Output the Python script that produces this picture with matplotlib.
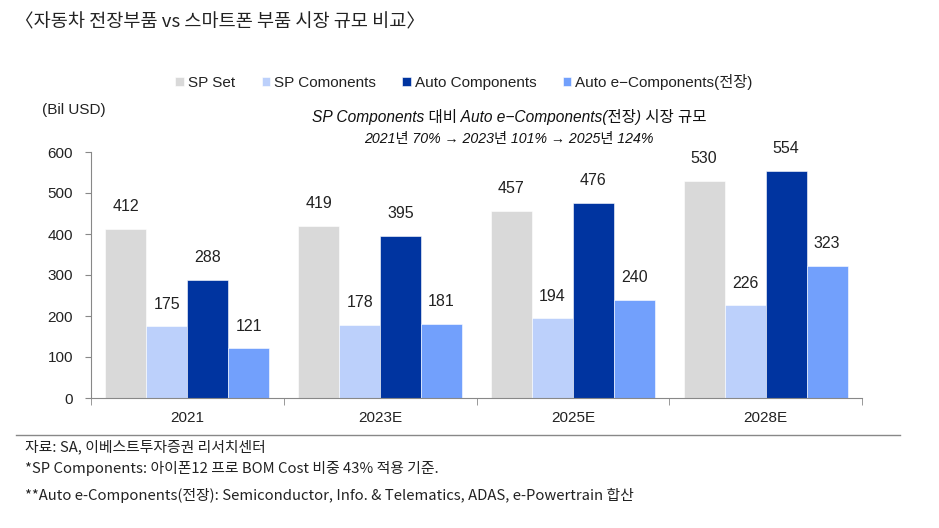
import matplotlib
matplotlib.use("Agg")
import matplotlib.pyplot as plt
import numpy as np

plt.rcParams['font.family'] = ['Liberation Sans', 'Noto Sans CJK KR', 'DejaVu Sans']

categories = ["2021", "2023E", "2025E", "2028E"]
series_names = ["SP Set", "SP Comonents", "Auto Components", "Auto e\u2212Components(전장)"]
sp_set = [412, 419, 457, 530]
sp_components = [175, 178, 194, 226]
auto_components = [288, 395, 476, 554]
auto_e_components = [121, 181, 240, 323]
series_values = [sp_set, sp_components, auto_components, auto_e_components]
colors = ["#d9d9d9", "#bcd0fb", "#0034a0", "#72a0fc"]
y_ticks = [0, 100, 200, 300, 400, 500, 600]

fig = plt.figure(figsize=(9.39, 5.28), dpi=100)
ax = fig.add_axes([91/939, 1-398/528, (862-91)/939, (398-152)/528])

x = np.arange(len(categories))
bw = 0.2125
handles = []
for i, (vals, c) in enumerate(zip(series_values, colors)):
    pos = x + (i - 1.5) * bw
    b = ax.bar(pos, vals, width=bw, color=c, edgecolor='white', linewidth=0.4, label=series_names[i])
    handles.append(b)
    for p, v in zip(pos, vals):
        ax.annotate(str(v), (p, v), xytext=(0, 16), textcoords='offset points',
                    ha='center', va='center', fontsize=11.5, color='#222222')

ax.set_xlim(-0.5, len(categories) - 0.5)
ax.set_ylim(0, 600)
ax.set_yticks(y_ticks)
ax.set_yticklabels([str(t) for t in y_ticks], fontsize=11, color='#222222')
ax.set_xticks(x)
ax.set_xticklabels(categories, fontsize=11, color='#222222')
ax.tick_params(axis='x', length=0, pad=9)
ax.set_xticks(np.arange(-0.5, len(categories)), minor=True)
ax.tick_params(axis='x', which='minor', length=5, color='#888888', direction='out')
ax.tick_params(axis='y', length=4, color='#888888', pad=9)
for s in ['top', 'right']:
    ax.spines[s].set_visible(False)
ax.spines['left'].set_color('#888888')
ax.spines['bottom'].set_color('#888888')

# Legend
leg = fig.legend(handles=handles, labels=series_names, loc='center', bbox_to_anchor=(464/939, 1-82/528),
                 ncol=4, frameon=False, fontsize=11, handlelength=0.55, handleheight=0.55,
                 handletextpad=0.25, columnspacing=1.75)
for t in leg.get_texts():
    t.set_color('#222222')

# Title
fig.text(15/939, 1-22/528, "〈자동차 전장부품 vs 스마트폰 부품 시장 규모 비교〉", fontsize=13.4,
         family=['Noto Sans CJK KR', 'DejaVu Sans'], ha='left', va='center', color='#222222')

fig.text(42/939, 1-110/528, "(Bil USD)", fontsize=11, ha='left', va='center', color='#222222')

# Subtitle
fig.text(509/939, 1-117/528, "SP Components 대비 Auto e\u2212Components(전장) 시장 규모", fontsize=11.2,
         style='italic', weight='medium', ha='center', va='center', color='#111111')
fig.text(509/939, 1-139/528, "2021년 70% \u2192 2023년 101% \u2192 2025년 124%", fontsize=10.2,
         style='italic', weight='medium', ha='center', va='center', color='#111111')

# Separator line
fig.add_artist(plt.Line2D([16/939, 900/939], [1-435/528, 1-435/528], color='#888888', linewidth=1))

foot_fam = ['Noto Sans CJK KR', 'DejaVu Sans']
fig.text(25/939, 1-447/528, "자료: SA, 이베스트투자증권 리서치센터", fontsize=10.7, family=foot_fam,
         ha='left', va='center', color='#222222')
fig.text(25/939, 1-468/528, "*SP Components: 아이폰12 프로 BOM Cost 비중 43% 적용 기준.", fontsize=10.7,
         family=foot_fam, ha='left', va='center', color='#222222')
fig.text(25/939, 1-495/528, "**Auto e-Components(전장): Semiconductor, Info. & Telematics, ADAS, e-Powertrain 합산",
         fontsize=10.7, family=foot_fam, ha='left', va='center', color='#222222')

fig.savefig("out.png", dpi=100)
